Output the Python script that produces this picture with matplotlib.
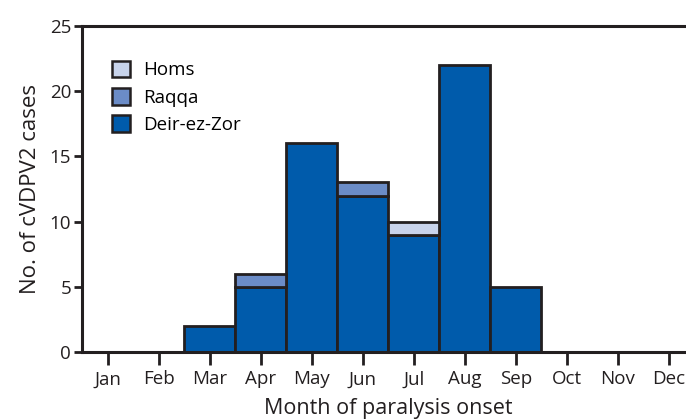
import numpy as np
import matplotlib.pyplot as plt

months = ["Jan", "Feb", "Mar", "Apr", "May", "Jun", "Jul", "Aug", "Sep", "Oct", "Nov", "Dec"]
deir = [0, 0, 2, 5, 16, 12, 9, 22, 5, 0, 0, 0]
raqqa = [0, 0, 0, 1, 0, 1, 0, 0, 0, 0, 0, 0]
homs = [0, 0, 0, 0, 0, 0, 1, 0, 0, 0, 0, 0]

plt.rcParams['font.family'] = ['Open Sans', 'DejaVu Sans']
ink = "#231f20"

fig = plt.figure(figsize=(6.86, 4.19), dpi=100)
ax = fig.add_axes([82.3/686, 66.7/419, 612/686, 326.6/419])

x = np.arange(len(months))
d = np.array(deir)
r = np.array(raqqa)
h = np.array(homs)
kw = dict(width=1.0, edgecolor=ink, linewidth=2)
m = d > 0
ax.bar(x[m], d[m], color="#005bab", label="Deir-ez-Zor", **kw)
m = r > 0
ax.bar(x[m], r[m], bottom=d[m], color="#6b8cc7", label="Raqqa", **kw)
m = h > 0
ax.bar(x[m], h[m], bottom=(d + r)[m], color="#c8d3eb", label="Homs", **kw)

ax.set_xlim(-0.5, 11.5)
ax.set_ylim(0, 25)
ax.set_xticks(x)
ax.set_xticklabels(months)
ax.set_yticks([0, 5, 10, 15, 20, 25])
ax.tick_params(axis="both", labelsize=13.5, colors=ink, length=9, width=2)
ax.tick_params(axis="x", pad=4)
ax.tick_params(axis="y", length=6, pad=2)
for s in ax.spines.values():
    s.set_linewidth(2.2)
    s.set_color(ink)
ax.set_xlabel("Month of paralysis onset", fontsize=15.5, color=ink, labelpad=7)
ax.set_ylabel("No. of cVDPV2 cases", fontsize=16, color=ink, labelpad=6)

hnd, lab = ax.get_legend_handles_labels()
leg = ax.legend(hnd[::-1], lab[::-1], loc="upper left", bbox_to_anchor=(0.048, 0.893),
                frameon=False, fontsize=13.5, handlelength=1.0, handleheight=1.0,
                handletextpad=0.7, labelspacing=0.45, borderpad=0, borderaxespad=0)
for p in leg.get_patches():
    p.set_linewidth(1.8)

fig.savefig("out.png", dpi=100)
